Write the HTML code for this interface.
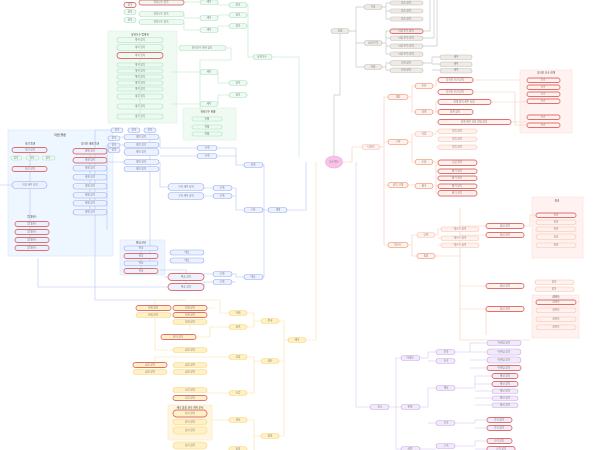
<!DOCTYPE html>
<html><head><meta charset="utf-8"><style>
html,body{margin:0;padding:0;background:#fff}
svg{display:block}
text{font-family:"Liberation Sans","Noto Sans CJK KR",sans-serif;font-size:2.6px;fill:#777;text-anchor:middle;dominant-baseline:middle}
.gy{fill:#eeeae6;stroke:#c4beb8;stroke-width:.6}
.o{fill:#fff1ec;stroke:#f7c0ae;stroke-width:.6}
.o2{fill:#fff1ec;stroke:#f4a27e;stroke-width:.8}
.g{fill:#edfaf1;stroke:#a6e0bb;stroke-width:.6}
.b{fill:#ebf1ff;stroke:#93aaf2;stroke-width:.6}
.y{fill:#fff1c4;stroke:#f8d57a;stroke-width:.6}
.p{fill:#f2eafb;stroke:#c2a8e8;stroke-width:.6}
.r{stroke:#e07070;stroke-width:.9}
.lg{fill:none;stroke:#c9c9c9;stroke-width:.7}
.lo{fill:none;stroke:#fbc9b6;stroke-width:.6}
.lgr{fill:none;stroke:#b7e6c8;stroke-width:.6}
.lb{fill:none;stroke:#b3c5f6;stroke-width:.6}
.ly{fill:none;stroke:#fbe1a6;stroke-width:.6}
.lp{fill:none;stroke:#d5c5f0;stroke-width:.6}
</style></head><body>
<svg width="600" height="450" viewBox="0 0 600 450" xmlns="http://www.w3.org/2000/svg">
<!-- group boxes -->
<rect x="8" y="130" width="105" height="126" fill="#eef6ff" stroke="#d6e6fa" stroke-width=".5"/>
<text x="60" y="135" style="font-size:3px;fill:#333">작업 플랜</text>
<text x="30" y="144" style="font-size:2.6px;fill:#333">의견 플랜</text>
<text x="90" y="144" style="font-size:2.6px;fill:#333">디자인 대체 플랜</text>
<text x="32" y="217" style="font-size:2.6px;fill:#333">업데이트</text>
<rect x="120" y="240" width="45" height="35" fill="#eef4ff" stroke="#d6e2fa" stroke-width=".5"/>
<text x="141" y="243" style="font-size:2.6px;fill:#333">위험 관리</text>
<rect x="108" y="31" width="69" height="92" fill="#effaf2" stroke="#d6f0dd" stroke-width=".5"/>
<text x="140" y="35" style="font-size:2.6px;fill:#333">유지보수 업계획</text>
<rect x="183" y="108" width="53" height="32" fill="#effaf2" stroke="#d6f0dd" stroke-width=".5"/>
<text x="208" y="112" style="font-size:2.6px;fill:#333">유지보수 현황</text>
<rect x="520" y="70" width="52" height="63" fill="#fff2f0" stroke="#fadcd4" stroke-width=".5"/>
<text x="546" y="73" style="font-size:2.6px;fill:#333">디자인 요소 설계</text>
<rect x="532" y="197" width="51" height="61" fill="#fff2f0" stroke="#fadcd4" stroke-width=".5"/>
<text x="557" y="201" style="font-size:2.6px;fill:#333">결과</text>
<rect x="532" y="295" width="47" height="43" fill="#fff2f0" stroke="#fadcd4" stroke-width=".5"/>
<text x="556" y="297" style="font-size:2.6px;fill:#333">참여자</text>
<rect x="168" y="405" width="44" height="35" fill="#fff6e0" stroke="#fbe6b8" stroke-width=".5"/>
<text x="190" y="408" style="font-size:2.6px;fill:#333">제조 품질 관리 계획 문서</text>

<!-- main connectors -->
<path class="lg" d="M334 156 V95 H340 V34"/>
<path class="lg" d="M349 31 H356 V7 H364 M356 31 V67 H364 M356 43 H364"/>
<path class="lg" d="M382 7 H386 V3 H390 M386 7 V19 H390 M386 11 H390 M382 43 H386 V31 H390 M386 43 V54 H390 M386 38 H390 M386 46 H390 M382 67 H386 V63 H390 M386 67 V70 H390 M423 63 H432 V57 H440 M432 64 H440 M432 70 H440 M423 31 H430 V0 M423 38 H434 V0 M423 46 H437 V0"/>
<path class="lo" d="M342 162 H352 V147 H362 M380 147 H384 V97 H388 M384 147 V245 H388 M384 142 H388 M384 185 H388"/>
<path class="lo" d="M408 97 H412 V86 H415 M412 97 V112 H415 M433 86 H436 V80 H438 M436 92 H438 M433 112 H436 V102 H438 M436 122 H438 M436 112 H438 M408 142 H412 V134 H415 M412 142 V162 H415 M433 134 H436 V131 H438 M436 147 H438 M433 162 H436 V193 H438 M436 171 H438 M436 178 H438 M436 186 H438 M408 185 H415 M473 80 H520 M491 102 H527 M511 122 H527 M473 92 H515 V125 H527"/>
<path class="lo" d="M408 245 H412 V235 H417 M412 245 V256 H417 M435 235 H438 V229 H441 M438 238 H441 M438 245 H441 M435 256 H460 V226 H486 M460 235 H486 M460 286 H486 M460 309 H486 V335 M460 208 V340 H530 M524 226 H530 V215 H536"/>
<path class="lgr" d="M299 157 V57 H272 M253 57 H248 V5 H247 M248 15 H247 M248 26 H247 M248 83 H247 M248 95 H247 M229 5 H218 V2 M229 15 H218 V18 M229 26 H218 V30 M229 83 H218 V72 M229 95 H218 V104 M200 2 H184 M200 18 H184 V14 M200 30 H184 V22 M200 72 H170 M200 104 H170 M226 48 H231 V60 H200 V110"/>
<path class="lgr" d="M140 43 V120 M206 122 V136"/>
<path class="lb" d="M306 162 V210 H287 M268 210 H264 V165 H263 M264 210 H263 M264 210 V277 H263 M244 165 H236 V148 H217 M236 156 H217 M244 210 H236 V188 H232 M236 196 H232 M244 277 H236 V274 H232 M236 282 H232 M197 148 H160 V137 M197 156 H160 M213 188 H204 M213 196 H204 M213 274 H204 V277 M213 282 H204 V287 M168 187 H160 V162 M124 137 H113 M150 130 V262 M168 277 H164 M168 287 H38 V258 M124 162 H100 M124 145 H107 V230 M186 290 V270 H160 M120 130 H95 V300 H186"/>
<path class="lb" d="M30 153 V245 M90 155 V214 M0 185 H13 M141 251 V271"/>
<path class="ly" d="M316 162 V340 H306 M288 340 H284 V321 H279 M284 340 V436 H279 M284 361 H279 M261 321 H254 V313 H247 M254 321 V327 H247 M261 361 H254 V357 H247 M254 361 V393 H247 M261 436 H254 V420 H247 M254 436 V450 M229 313 H220 V300 H155 V350 H173 M229 327 H210 V337 H196 M207 308 H215 M229 357 H155 V368 M229 393 H207 V390 M229 420 H212 M190 315 V330"/>
<path class="lp" d="M356 162 V407 H370 M389 407 H396 V358 H401 M396 407 H401 M396 407 V449 H401 M420 358 H428 V352 H436 M428 361 H436 M420 407 H428 V388 H436 M428 423 H436 M420 449 H436 M455 352 H470 V343 H487 M470 352 H487 M470 360 H487 M470 368 H487 M455 388 H475 V376 H492 M475 384 H492 M475 391 H492 M475 398 H492 M475 405 H492 M455 423 H475 V420 H487 M475 428 H487 M455 446 H475 V441 H487 M475 449 H487"/>

<!-- root -->
<ellipse cx="334" cy="162" rx="8.5" ry="6" fill="#f9c2e8" stroke="#f2a6da" stroke-width=".6"/>
<text x="334" y="162">프로젝트</text>

<!-- gray -->
<rect class="gy" x="331" y="28.5" width="18" height="5" rx="2.5"/><text x="340" y="31">강점</text>
<rect class="gy" x="364" y="4.5" width="18" height="5" rx="2.5"/><text x="373" y="7">기술</text>
<rect class="gy" x="364" y="40.5" width="18" height="5" rx="2.5"/><text x="373" y="43">시장 분석</text>
<rect class="gy" x="364" y="64.5" width="18" height="5" rx="2.5"/><text x="373" y="67">기회</text>
<rect class="gy" x="390" y="1" width="33" height="4" rx="2"/><text x="406" y="3">기술 항목</text>
<rect class="gy" x="390" y="9" width="33" height="4" rx="2"/><text x="406" y="11">기술 항목</text>
<rect class="gy" x="390" y="17" width="33" height="4" rx="2"/><text x="406" y="19">기술 항목</text>
<rect class="gy r" x="390" y="29" width="33" height="4.5" rx="2.2"/><text x="406" y="31">시장 분석 항목</text>
<rect class="gy" x="390" y="36" width="33" height="4.5" rx="2.2"/><text x="406" y="38">시장 분석 항목</text>
<rect class="gy" x="390" y="44" width="33" height="4.5" rx="2.2"/><text x="406" y="46">시장 분석 항목</text>
<rect class="gy" x="390" y="52" width="33" height="4.5" rx="2.2"/><text x="406" y="54">시장 분석 항목</text>
<rect class="gy" x="390" y="60.5" width="33" height="5" rx="2.5"/><text x="406" y="63">기회 항목</text>
<rect class="gy" x="390" y="68" width="33" height="4.5" rx="2.2"/><text x="406" y="70">기회 항목</text>
<rect class="gy" x="440" y="55" width="32" height="4.5" rx="2.2"/><text x="456" y="57">세부</text>
<rect class="gy" x="440" y="62" width="32" height="4.5" rx="2.2"/><text x="456" y="64">세부</text>
<rect class="gy" x="440" y="68.5" width="32" height="4.5" rx="2.2"/><text x="456" y="70">세부</text>

<!-- orange -->
<rect class="o" x="362" y="144.5" width="18" height="5" rx="2.5"/><text x="371" y="147">디자인</text>
<rect class="o2" x="388" y="94.5" width="20" height="5" rx="2.5"/><text x="398" y="97">개념</text>
<rect class="o2" x="388" y="139.5" width="20" height="5" rx="2.5"/><text x="398" y="142">구현</text>
<rect class="o2" x="388" y="182.5" width="20" height="5" rx="2.5"/><text x="398" y="185">검토 단계</text>
<rect class="o2" x="388" y="242.5" width="20" height="5" rx="2.5"/><text x="398" y="245">테스트</text>
<rect class="o2" x="415" y="83.5" width="18" height="5" rx="2.5"/><text x="424" y="86">초안</text>
<rect class="o2" x="415" y="109.5" width="18" height="5" rx="2.5"/><text x="424" y="112">설계</text>
<rect class="o" x="415" y="131.5" width="18" height="5" rx="2.5"/><text x="424" y="134">작업</text>
<rect class="o2" x="415" y="159.5" width="18" height="5" rx="2.5"/><text x="424" y="162">조정</text>
<rect class="o2" x="415" y="183.5" width="18" height="5" rx="2.5"/><text x="424" y="186">평가</text>
<rect class="o r" x="438" y="77.5" width="35" height="5" rx="2.5"/><text x="455" y="80">디자인 초안 항목</text>
<rect class="o r" x="438" y="89.5" width="35" height="5" rx="2.5"/><text x="455" y="92">디자인 초안 항목</text>
<rect class="o r" x="438" y="99.5" width="53" height="5" rx="2.5"/><text x="464" y="102">설계 항목 세부 사항</text>
<rect class="o r" x="438" y="109.5" width="35" height="5" rx="2.5"/><text x="455" y="112">설계 항목</text>
<rect class="o r" x="438" y="119.5" width="73" height="5" rx="2.5"/><text x="474" y="122">설계 세부 사항 설명 항목</text>
<rect class="o" x="438" y="129" width="39" height="4.5" rx="2.2"/><text x="457" y="131">작업 항목</text>
<rect class="o" x="438" y="137" width="39" height="4.5" rx="2.2"/><text x="457" y="139">작업 항목</text>
<rect class="o" x="438" y="145" width="39" height="4.5" rx="2.2"/><text x="457" y="147">작업 항목</text>
<rect class="o r" x="438" y="160" width="39" height="5.5" rx="2.7"/><text x="457" y="162.5">조정 항목</text>
<rect class="o r" x="438" y="169" width="39" height="4.5" rx="2.2"/><text x="457" y="171">평가 항목</text>
<rect class="o r" x="438" y="176" width="39" height="4.5" rx="2.2"/><text x="457" y="178">평가 항목</text>
<rect class="o r" x="438" y="184" width="39" height="4.5" rx="2.2"/><text x="457" y="186">평가 항목</text>
<rect class="o r" x="438" y="190.5" width="39" height="5.5" rx="2.7"/><text x="457" y="193">평가 항목</text>
<rect class="o r" x="527" y="78" width="33" height="4.5" rx="2.2"/><text x="543" y="80">요소</text>
<rect class="o r" x="527" y="85" width="33" height="4.5" rx="2.2"/><text x="543" y="87">요소</text>
<rect class="o r" x="527" y="92" width="33" height="4.5" rx="2.2"/><text x="543" y="94">요소</text>
<rect class="o r" x="527" y="99" width="33" height="4.5" rx="2.2"/><text x="543" y="101">요소</text>
<rect class="o r" x="527" y="115" width="33" height="4.5" rx="2.2"/><text x="543" y="117">요소</text>
<rect class="o r" x="527" y="123" width="33" height="4.5" rx="2.2"/><text x="543" y="125">요소</text>
<rect class="o" x="417" y="232.5" width="18" height="5" rx="2.5"/><text x="426" y="235">단위</text>
<rect class="o2" x="417" y="253.5" width="18" height="5" rx="2.5"/><text x="426" y="256">통합</text>
<rect class="o" x="441" y="227" width="38" height="4.5" rx="2.2"/><text x="460" y="229">테스트 항목</text>
<rect class="o" x="441" y="236" width="38" height="4.5" rx="2.2"/><text x="460" y="238">테스트 항목</text>
<rect class="o" x="441" y="243" width="38" height="4.5" rx="2.2"/><text x="460" y="245">테스트 항목</text>
<rect class="o r" x="486" y="223.5" width="38" height="5" rx="2.5"/><text x="505" y="226">통합 항목</text>
<rect class="o r" x="486" y="232.5" width="38" height="5" rx="2.5"/><text x="505" y="235">통합 항목</text>
<rect class="o r" x="486" y="283.5" width="38" height="5" rx="2.5"/><text x="505" y="286">통합 항목</text>
<rect class="o r" x="486" y="306.5" width="38" height="5" rx="2.5"/><text x="505" y="309">통합 항목</text>
<rect class="o r" x="536" y="213" width="40" height="4.5" rx="2.2"/><text x="556" y="215">결과</text>
<rect class="o" x="536" y="220" width="40" height="4.5" rx="2.2"/><text x="556" y="222">결과</text>
<rect class="o" x="536" y="227" width="40" height="4.5" rx="2.2"/><text x="556" y="229">결과</text>
<rect class="o" x="536" y="234" width="40" height="5.5" rx="2.7"/><text x="556" y="237">결과</text>
<rect class="o" x="536" y="243" width="40" height="4.5" rx="2.2"/><text x="556" y="245">결과</text>
<rect class="o" x="535" y="280" width="39" height="4.5" rx="2.2"/><text x="554" y="282">항목</text>
<rect class="o" x="535" y="287" width="39" height="4.5" rx="2.2"/><text x="554" y="289">항목</text>
<rect class="o r" x="536" y="300" width="40" height="4.5" rx="2.2"/><text x="556" y="302">참여자</text>
<rect class="o" x="536" y="308" width="40" height="4.5" rx="2.2"/><text x="556" y="310">참여자</text>
<rect class="o" x="536" y="317" width="40" height="4.5" rx="2.2"/><text x="556" y="319">참여자</text>
<rect class="o" x="536" y="325" width="40" height="4.5" rx="2.2"/><text x="556" y="327">참여자</text>

<!-- green -->
<rect class="g" x="253" y="54.5" width="19" height="5" rx="2.5"/><text x="262" y="57">유지보수</text>
<rect class="g" x="229" y="2.5" width="18" height="5" rx="2.5"/><text x="238" y="5">항목</text>
<rect class="g" x="229" y="12.5" width="18" height="5" rx="2.5"/><text x="238" y="15">항목</text>
<rect class="g" x="229" y="23.5" width="18" height="5" rx="2.5"/><text x="238" y="26">항목</text>
<rect class="g" x="229" y="80.5" width="18" height="5" rx="2.5"/><text x="238" y="83">항목</text>
<rect class="g" x="229" y="92.5" width="18" height="5" rx="2.5"/><text x="238" y="95">항목</text>
<rect class="g" x="200" y="0" width="18" height="4.5" rx="2.2"/><text x="209" y="2">세부</text>
<rect class="g" x="200" y="15.5" width="18" height="5" rx="2.5"/><text x="209" y="18">세부</text>
<rect class="g" x="200" y="27.5" width="18" height="5" rx="2.5"/><text x="209" y="30">세부</text>
<rect class="g" x="200" y="69.5" width="18" height="5" rx="2.5"/><text x="209" y="72">세부</text>
<rect class="g" x="200" y="101.5" width="18" height="5" rx="2.5"/><text x="209" y="104">세부</text>
<rect class="g r" x="139" y="0" width="45" height="5" rx="2.5"/><text x="161" y="2.5">유지보수 항목</text>
<rect class="g" x="139" y="11.5" width="45" height="5" rx="2.5"/><text x="161" y="14">유지보수 항목</text>
<rect class="g" x="139" y="19.5" width="45" height="5" rx="2.5"/><text x="161" y="22">유지보수 항목</text>
<rect class="g r" x="124" y="2.5" width="12" height="5" rx="2.5"/><text x="130" y="5">항목</text>
<rect class="g" x="124" y="9.5" width="12" height="5" rx="2.5"/><text x="130" y="12">항목</text>
<rect class="g" x="124" y="17.5" width="12" height="5" rx="2.5"/><text x="130" y="20">항목</text>
<rect class="g" x="179" y="45.5" width="47" height="5" rx="2.5"/><text x="202" y="48">유지보수 계획 항목</text>
<rect class="g" x="117" y="37.5" width="46" height="5" rx="2.5"/><text x="140" y="40">계획 항목</text>
<rect class="g" x="117" y="44.5" width="46" height="6" rx="3"/><text x="140" y="47.5">계획 항목</text>
<rect class="g r" x="117" y="52.5" width="46" height="6" rx="3"/><text x="140" y="55.5">계획 항목</text>
<rect class="g" x="117" y="63" width="46" height="4" rx="2"/><text x="140" y="65">계획 항목</text>
<rect class="g" x="117" y="69" width="46" height="4" rx="2"/><text x="140" y="71">계획 항목</text>
<rect class="g" x="117" y="75" width="46" height="4" rx="2"/><text x="140" y="77">계획 항목</text>
<rect class="g" x="117" y="81" width="46" height="4" rx="2"/><text x="140" y="83">계획 항목</text>
<rect class="g" x="117" y="87" width="46" height="4" rx="2"/><text x="140" y="89">계획 항목</text>
<rect class="g" x="117" y="94" width="46" height="5" rx="2.5"/><text x="140" y="96.5">계획 항목</text>
<rect class="g" x="117" y="104" width="46" height="5" rx="2.5"/><text x="140" y="106.5">계획 항목</text>
<rect class="g" x="117" y="114" width="46" height="5" rx="2.5"/><text x="140" y="116.5">계획 항목</text>
<rect class="g" x="192" y="117" width="30" height="4" rx="2"/><text x="207" y="119">현황</text>
<rect class="g" x="192" y="125" width="30" height="4" rx="2"/><text x="207" y="127">현황</text>
<rect class="g" x="192" y="132" width="30" height="4" rx="2"/><text x="207" y="134">현황</text>

<!-- blue -->
<rect class="b" x="268" y="207.5" width="19" height="5" rx="2.5"/><text x="278" y="210">개발</text>
<rect class="b" x="244" y="162.5" width="19" height="5" rx="2.5"/><text x="253" y="165">설계</text>
<rect class="b" x="244" y="207.5" width="19" height="5" rx="2.5"/><text x="253" y="210">구현</text>
<rect class="b" x="244" y="274.5" width="19" height="5" rx="2.5"/><text x="253" y="277">배포</text>
<rect class="b" x="197" y="145.5" width="20" height="5" rx="2.5"/><text x="207" y="148">단계</text>
<rect class="b" x="197" y="153.5" width="20" height="5" rx="2.5"/><text x="207" y="156">단계</text>
<rect class="b" x="213" y="185.5" width="19" height="5" rx="2.5"/><text x="222" y="188">단계</text>
<rect class="b" x="213" y="193.5" width="19" height="5" rx="2.5"/><text x="222" y="196">단계</text>
<rect class="b" x="213" y="271.5" width="19" height="5" rx="2.5"/><text x="222" y="274">단계</text>
<rect class="b" x="213" y="279.5" width="19" height="5" rx="2.5"/><text x="222" y="282">단계</text>
<rect class="b" x="111" y="128" width="12" height="4.5" rx="2.2"/><text x="117" y="130">항목</text>
<rect class="b" x="128" y="128" width="12" height="4.5" rx="2.2"/><text x="134" y="130">항목</text>
<rect class="b" x="144" y="128" width="12" height="4.5" rx="2.2"/><text x="150" y="130">항목</text>
<rect class="b" x="108" y="136" width="12" height="4.5" rx="2.2"/><text x="114" y="138">항목</text>
<rect class="b" x="108" y="143" width="12" height="4.5" rx="2.2"/><text x="114" y="145">항목</text>
<rect class="b" x="108" y="148" width="12" height="4.5" rx="2.2"/><text x="114" y="150">항목</text>
<rect class="b" x="124" y="134.5" width="35" height="5" rx="2.5"/><text x="141" y="137">개발 항목</text>
<rect class="b" x="124" y="142.5" width="35" height="5" rx="2.5"/><text x="141" y="145">개발 항목</text>
<rect class="b" x="124" y="148.5" width="35" height="7" rx="3.5"/><text x="141" y="152">개발 항목</text>
<rect class="b" x="124" y="159.5" width="35" height="5" rx="2.5"/><text x="141" y="162">개발 항목</text>
<rect class="b" x="124" y="166.5" width="35" height="5" rx="2.5"/><text x="141" y="169">개발 항목</text>
<rect class="b" x="168" y="183.5" width="36" height="7" rx="3.5"/><text x="186" y="187">구현 세부 항목</text>
<rect class="b" x="168" y="192.5" width="36" height="7" rx="3.5"/><text x="186" y="196">구현 세부 항목</text>
<rect class="b r" x="168" y="273.5" width="36" height="7" rx="3.5"/><text x="186" y="277">배포 항목</text>
<rect class="b r" x="168" y="283.5" width="36" height="7" rx="3.5"/><text x="186" y="287">배포 항목</text>
<rect class="b" x="170" y="250" width="34" height="5" rx="2.5"/><text x="187" y="252.5">배포</text>
<rect class="b" x="170" y="258" width="34" height="5" rx="2.5"/><text x="187" y="260.5">배포</text>
<rect class="b r" x="12" y="147.5" width="35" height="5" rx="2.5"/><text x="30" y="150">의견 항목</text>
<rect class="g" x="11" y="156" width="11" height="4" rx="2"/><text x="16" y="158">항목</text>
<rect class="g" x="26" y="156" width="13" height="4" rx="2"/><text x="32" y="158">항목</text>
<rect class="g" x="42" y="156" width="13" height="4" rx="2"/><text x="48" y="158">항목</text>
<rect class="b r" x="12" y="166.5" width="35" height="5" rx="2.5"/><text x="30" y="169">의견 항목</text>
<rect class="b" x="12" y="181.5" width="35" height="7" rx="3.5"/><text x="30" y="185">의견 세부 항목</text>
<rect class="b r" x="15" y="221.5" width="34" height="5" rx="2.5"/><text x="32" y="224">업데이트</text>
<rect class="b r" x="15" y="229.5" width="34" height="5" rx="2.5"/><text x="32" y="232">업데이트</text>
<rect class="b r" x="15" y="237.5" width="34" height="5" rx="2.5"/><text x="32" y="240">업데이트</text>
<rect class="b r" x="15" y="245.5" width="34" height="5" rx="2.5"/><text x="32" y="248">업데이트</text>
<rect class="b r" x="73" y="148.5" width="34" height="5.5" rx="2.7"/><text x="90" y="151">대체 항목</text>
<rect class="b r" x="73" y="157.5" width="34" height="5.5" rx="2.7"/><text x="90" y="160">대체 항목</text>
<rect class="b" x="73" y="165.5" width="34" height="5.5" rx="2.7"/><text x="90" y="168">대체 항목</text>
<rect class="b" x="73" y="174.5" width="34" height="5.5" rx="2.7"/><text x="90" y="177">대체 항목</text>
<rect class="b" x="73" y="183.5" width="34" height="5.5" rx="2.7"/><text x="90" y="186">대체 항목</text>
<rect class="b" x="73" y="192.5" width="34" height="5.5" rx="2.7"/><text x="90" y="195">대체 항목</text>
<rect class="b" x="73" y="200.5" width="34" height="5.5" rx="2.7"/><text x="90" y="203">대체 항목</text>
<rect class="b" x="73" y="209.5" width="34" height="5.5" rx="2.7"/><text x="90" y="212">대체 항목</text>
<rect class="b" x="124" y="246" width="34" height="4.5" rx="2.2"/><text x="141" y="248">위험</text>
<rect class="b r" x="124" y="253.5" width="34" height="5" rx="2.5"/><text x="141" y="256">위험</text>
<rect class="b" x="124" y="261" width="34" height="4.5" rx="2.2"/><text x="141" y="263">위험</text>
<rect class="b r" x="124" y="268.5" width="34" height="5" rx="2.5"/><text x="141" y="271">위험</text>

<!-- yellow -->
<rect class="y" x="288" y="337.5" width="18" height="5" rx="2.5"/><text x="297" y="340">제조</text>
<rect class="y" x="261" y="318.5" width="18" height="5" rx="2.5"/><text x="270" y="321">준비</text>
<rect class="y" x="261" y="358.5" width="18" height="5" rx="2.5"/><text x="270" y="361">생산</text>
<rect class="y" x="261" y="433.5" width="18" height="5" rx="2.5"/><text x="270" y="436">품질</text>
<rect class="y" x="229" y="310.5" width="18" height="5" rx="2.5"/><text x="238" y="313">자재</text>
<rect class="y" x="229" y="324.5" width="18" height="5" rx="2.5"/><text x="238" y="327">장비</text>
<rect class="y" x="229" y="354.5" width="18" height="5" rx="2.5"/><text x="238" y="357">공정</text>
<rect class="y" x="229" y="390.5" width="18" height="5" rx="2.5"/><text x="238" y="393">조립</text>
<rect class="y" x="229" y="417.5" width="18" height="5" rx="2.5"/><text x="238" y="420">검사</text>
<rect class="y" x="229" y="446.5" width="18" height="5" rx="2.5"/><text x="238" y="449">출하</text>
<rect class="y r" x="173" y="305.5" width="34" height="5" rx="2.5"/><text x="190" y="308">자재 항목</text>
<rect class="y r" x="173" y="312.5" width="34" height="5" rx="2.5"/><text x="190" y="315">자재 항목</text>
<rect class="y" x="173" y="319.5" width="34" height="5" rx="2.5"/><text x="190" y="322">자재 항목</text>
<rect class="y r" x="136" y="305.5" width="35" height="5" rx="2.5"/><text x="153" y="308">자재 항목</text>
<rect class="y" x="136" y="312.5" width="35" height="5" rx="2.5"/><text x="153" y="315">자재 항목</text>
<rect class="y r" x="161" y="334.5" width="35" height="5" rx="2.5"/><text x="178" y="337">장비 항목</text>
<rect class="y" x="173" y="347.5" width="34" height="5" rx="2.5"/><text x="190" y="350">공정 항목</text>
<rect class="y r" x="133" y="362.5" width="34" height="5" rx="2.5"/><text x="150" y="365">공정 항목</text>
<rect class="y" x="133" y="369.5" width="34" height="5" rx="2.5"/><text x="150" y="372">공정 항목</text>
<rect class="y" x="173" y="362.5" width="34" height="5" rx="2.5"/><text x="190" y="365">공정 항목</text>
<rect class="y" x="173" y="369.5" width="34" height="5" rx="2.5"/><text x="190" y="372">공정 항목</text>
<rect class="y" x="173" y="387.5" width="34" height="5" rx="2.5"/><text x="190" y="390">조립 항목</text>
<rect class="y r" x="173" y="395.5" width="34" height="5" rx="2.5"/><text x="190" y="398">조립 항목</text>
<rect class="y r" x="173" y="410" width="34" height="7" rx="3.5"/><text x="190" y="413.5">검사 항목</text>
<rect class="y" x="173" y="419.5" width="34" height="5" rx="2.5"/><text x="190" y="422">검사 항목</text>
<rect class="y" x="173" y="427" width="34" height="7" rx="3.5"/><text x="190" y="430.5">검사 항목</text>
<rect class="y" x="173" y="442" width="34" height="7" rx="3.5"/><text x="190" y="445.5">검사 항목</text>

<!-- purple -->
<rect class="p" x="370" y="404.5" width="19" height="5" rx="2.5"/><text x="380" y="407">출시</text>
<rect class="p" x="401" y="355.5" width="19" height="5" rx="2.5"/><text x="410" y="358">마케팅</text>
<rect class="p" x="401" y="404.5" width="19" height="5" rx="2.5"/><text x="410" y="407">판매</text>
<rect class="p" x="401" y="446.5" width="19" height="5" rx="2.5"/><text x="410" y="449">지원</text>
<rect class="p" x="436" y="349.5" width="19" height="5" rx="2.5"/><text x="446" y="352">전략</text>
<rect class="p" x="436" y="358.5" width="19" height="5" rx="2.5"/><text x="446" y="361">홍보</text>
<rect class="p" x="436" y="385.5" width="19" height="5" rx="2.5"/><text x="446" y="388">채널</text>
<rect class="p" x="436" y="420.5" width="19" height="5" rx="2.5"/><text x="446" y="423">가격</text>
<rect class="p" x="436" y="443.5" width="19" height="5" rx="2.5"/><text x="446" y="446">고객</text>
<rect class="p" x="487" y="340.5" width="34" height="5" rx="2.5"/><text x="504" y="343">마케팅 항목</text>
<rect class="p" x="487" y="349" width="34" height="6" rx="3"/><text x="504" y="352">마케팅 항목</text>
<rect class="p" x="487" y="357" width="34" height="6" rx="3"/><text x="504" y="360">마케팅 항목</text>
<rect class="p r" x="487" y="365.5" width="34" height="5" rx="2.5"/><text x="504" y="368">마케팅 항목</text>
<rect class="p r" x="492" y="373.5" width="26" height="5" rx="2.5"/><text x="505" y="376">채널 항목</text>
<rect class="p r" x="492" y="381.5" width="26" height="5" rx="2.5"/><text x="505" y="384">채널 항목</text>
<rect class="p" x="492" y="389" width="26" height="4.5" rx="2.2"/><text x="505" y="391">채널 항목</text>
<rect class="p" x="492" y="396" width="26" height="4.5" rx="2.2"/><text x="505" y="398">채널 항목</text>
<rect class="p" x="492" y="403" width="26" height="4.5" rx="2.2"/><text x="505" y="405">채널 항목</text>
<rect class="p r" x="487" y="417.5" width="25" height="5" rx="2.5"/><text x="499" y="420">가격 항목</text>
<rect class="p r" x="487" y="425.5" width="25" height="5" rx="2.5"/><text x="499" y="428">가격 항목</text>
<rect class="p r" x="487" y="438.5" width="25" height="5" rx="2.5"/><text x="499" y="441">고객 항목</text>
<rect class="p r" x="487" y="446.5" width="28" height="5" rx="2.5"/><text x="501" y="449">고객 항목</text>
</svg>
</body></html>
